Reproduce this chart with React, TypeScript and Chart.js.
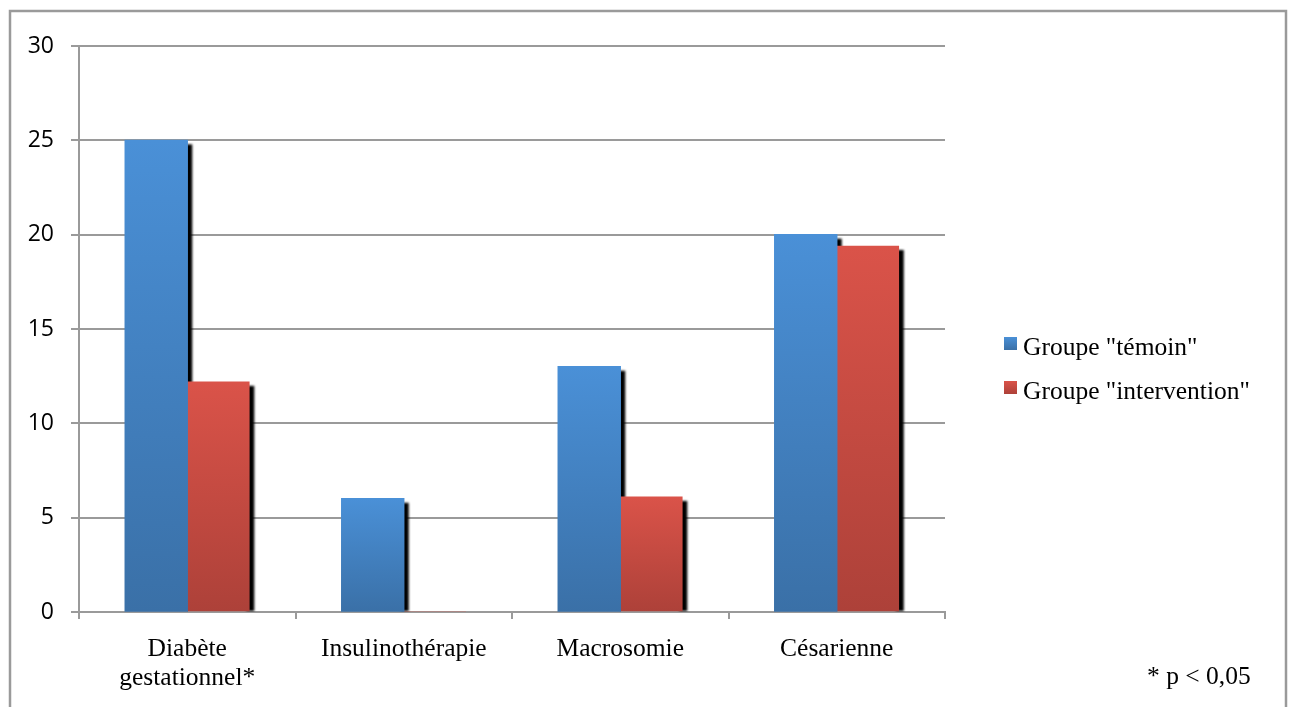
import React, { useEffect, useRef } from "react";
import { Chart, registerables } from "chart.js";

Chart.register(...registerables);

const categories: (string | string[])[] = [
  ["Diabète", "gestationnel*"],
  "Insulinothérapie",
  "Macrosomie",
  "Césarienne",
];
const temoinValues = [25, 6, 13, 20];
const interventionValues = [12.2, 0, 6.1, 19.4];
const seriesLabels = ['Groupe "témoin"', 'Groupe "intervention"'];
const yTicks = [0, 5, 10, 15, 20, 25, 30];
const footnote = "* p < 0,05";

const BLUE_TOP = "#4a90d7";
const BLUE_BOTTOM = "#3a70a7";
const RED_TOP = "#da5349";
const RED_BOTTOM = "#ad4139";
const SERIF = "'Liberation Serif', 'Times New Roman', serif";
const SANS = "'Open Sans', 'DejaVu Sans', sans-serif";
const SERIF_SIZE = 25.5;

function barGradient(top: string, bottom: string) {
  return (context: any) => {
    const chart = context.chart;
    const yScale = chart.scales?.y;
    if (!yScale || context.raw === undefined || context.type !== "data") return top;
    const y0 = yScale.getPixelForValue(0);
    const y1 = yScale.getPixelForValue(context.raw);
    if (!isFinite(y0) || !isFinite(y1) || Math.abs(y0 - y1) < 1) return top;
    const g = chart.ctx.createLinearGradient(0, y1, 0, y0);
    g.addColorStop(0, top);
    g.addColorStop(1, bottom);
    return g;
  };
}

const decorPlugin = {
  id: "decor",
  beforeDraw(chart: any) {
    const ctx = chart.ctx;
    ctx.save();
    ctx.fillStyle = "#ffffff";
    ctx.fillRect(0, 0, chart.width, chart.height);
    ctx.strokeStyle = "#9a9a9a";
    ctx.lineWidth = 2.5;
    ctx.beginPath();
    ctx.moveTo(10, chart.height + 10);
    ctx.lineTo(10, 11);
    ctx.lineTo(1286, 11);
    ctx.lineTo(1286, chart.height + 10);
    ctx.stroke();
    ctx.restore();
  },
  beforeDatasetsDraw(chart: any) {
    const ctx = chart.ctx;
    const area = chart.chartArea;
    ctx.save();
    ctx.beginPath();
    ctx.rect(area.left, area.top - 20, area.right - area.left + 20, area.bottom - area.top + 20);
    ctx.clip();
    ctx.filter = "blur(1px)";
    ctx.fillStyle = "#000000";
    const n = chart.data.datasets.length;
    for (let i = 0; i < n; i++) {
      const meta = chart.getDatasetMeta(i);
      const nextMeta = i + 1 < n ? chart.getDatasetMeta(i + 1) : null;
      meta.data.forEach((bar: any, j: number) => {
        const { x, y, width, base } = bar.getProps(["x", "y", "width", "base"], true);
        if (base - y < 1) return;
        let bottom = base;
        if (nextMeta && nextMeta.data[j]) {
          const nb = nextMeta.data[j].getProps(["y", "base"], true);
          if (nb.base - nb.y >= 1) bottom = Math.min(base, nb.y + 3);
        }
        const top = y + 4;
        if (bottom - top < 1) return;
        ctx.fillRect(x + width / 2 - 3, top, 8, bottom - top);
      });
    }
    ctx.restore();
  },
  afterDraw(chart: any) {
    const ctx = chart.ctx;
    ctx.save();
    const items = [
      { label: seriesLabels[0], top: BLUE_TOP, bottom: BLUE_BOTTOM, y: 337 },
      { label: seriesLabels[1], top: RED_TOP, bottom: RED_BOTTOM, y: 381 },
    ];
    ctx.font = `${SERIF_SIZE}px ${SERIF}`;
    ctx.textBaseline = "alphabetic";
    ctx.textAlign = "left";
    items.forEach((it) => {
      const g = ctx.createLinearGradient(0, it.y, 0, it.y + 13);
      g.addColorStop(0, it.top);
      g.addColorStop(1, it.bottom);
      ctx.fillStyle = g;
      ctx.fillRect(1004, it.y, 13, 13);
      ctx.fillStyle = "#000000";
      ctx.fillText(it.label, 1023, it.y + 18);
    });
    ctx.fillText(footnote, 1147, 684);
    ctx.restore();
  },
};

export default function App() {
  const canvasRef = useRef<HTMLCanvasElement | null>(null);

  useEffect(() => {
    if (!canvasRef.current) return;
    const chart = new Chart(canvasRef.current, {
      type: "bar",
      data: {
        labels: categories,
        datasets: [
          {
            label: seriesLabels[0],
            data: temoinValues,
            backgroundColor: barGradient(BLUE_TOP, BLUE_BOTTOM),
            borderWidth: 0,
            inflateAmount: 0.7,
            clip: 0 as any,
          } as any,
          {
            label: seriesLabels[1],
            data: interventionValues,
            backgroundColor: barGradient(RED_TOP, RED_BOTTOM),
            borderWidth: 0,
            inflateAmount: 0.3,
            clip: 0 as any,
          } as any,
        ],
      },
      plugins: [decorPlugin],
      options: {
        animation: false,
        responsive: true,
        maintainAspectRatio: false,
        devicePixelRatio: 1,
        layout: { padding: { left: 0, top: 46, right: 349, bottom: 0 } },
        datasets: {
          bar: { categoryPercentage: 0.573, barPercentage: 1 },
        },
        plugins: {
          legend: { display: false },
          tooltip: { enabled: false },
          title: { display: false },
        },
        scales: {
          x: {
            type: "category",
            offset: true,
            grid: {
              offset: true,
              drawOnChartArea: false,
              drawTicks: true,
              tickLength: 7,
              color: "#9a9a9a",
              lineWidth: 2,
            },
            border: { display: true, color: "#9a9a9a", width: 2 },
            ticks: {
              color: "#000000",
              font: { family: SERIF, size: SERIF_SIZE, lineHeight: 29 / SERIF_SIZE },
              padding: 16,
              maxRotation: 0,
              minRotation: 0,
              autoSkip: false,
            },
            afterFit: (scale: any) => {
              scale.height = 95;
            },
          },
          y: {
            min: 0,
            max: 30,
            afterBuildTicks: (scale: any) => {
              scale.ticks = yTicks.map((v) => ({ value: v }));
            },
            grid: {
              color: "#9a9a9a",
              lineWidth: 2,
              tickLength: 8,
              drawTicks: true,
            },
            border: { display: true, color: "#9a9a9a", width: 2 },
            ticks: {
              color: "#000000",
              font: { family: SANS, size: 23 },
              padding: 17,
            },
            afterFit: (scale: any) => {
              scale.width = 79;
            },
          },
        },
      },
    });
    return () => chart.destroy();
  }, []);

  return (
    <div
      style={{
        position: "fixed",
        left: 0,
        top: 0,
        width: 1294,
        height: 707,
        background: "#ffffff",
      }}
    >
      <canvas ref={canvasRef} />
    </div>
  );
}
